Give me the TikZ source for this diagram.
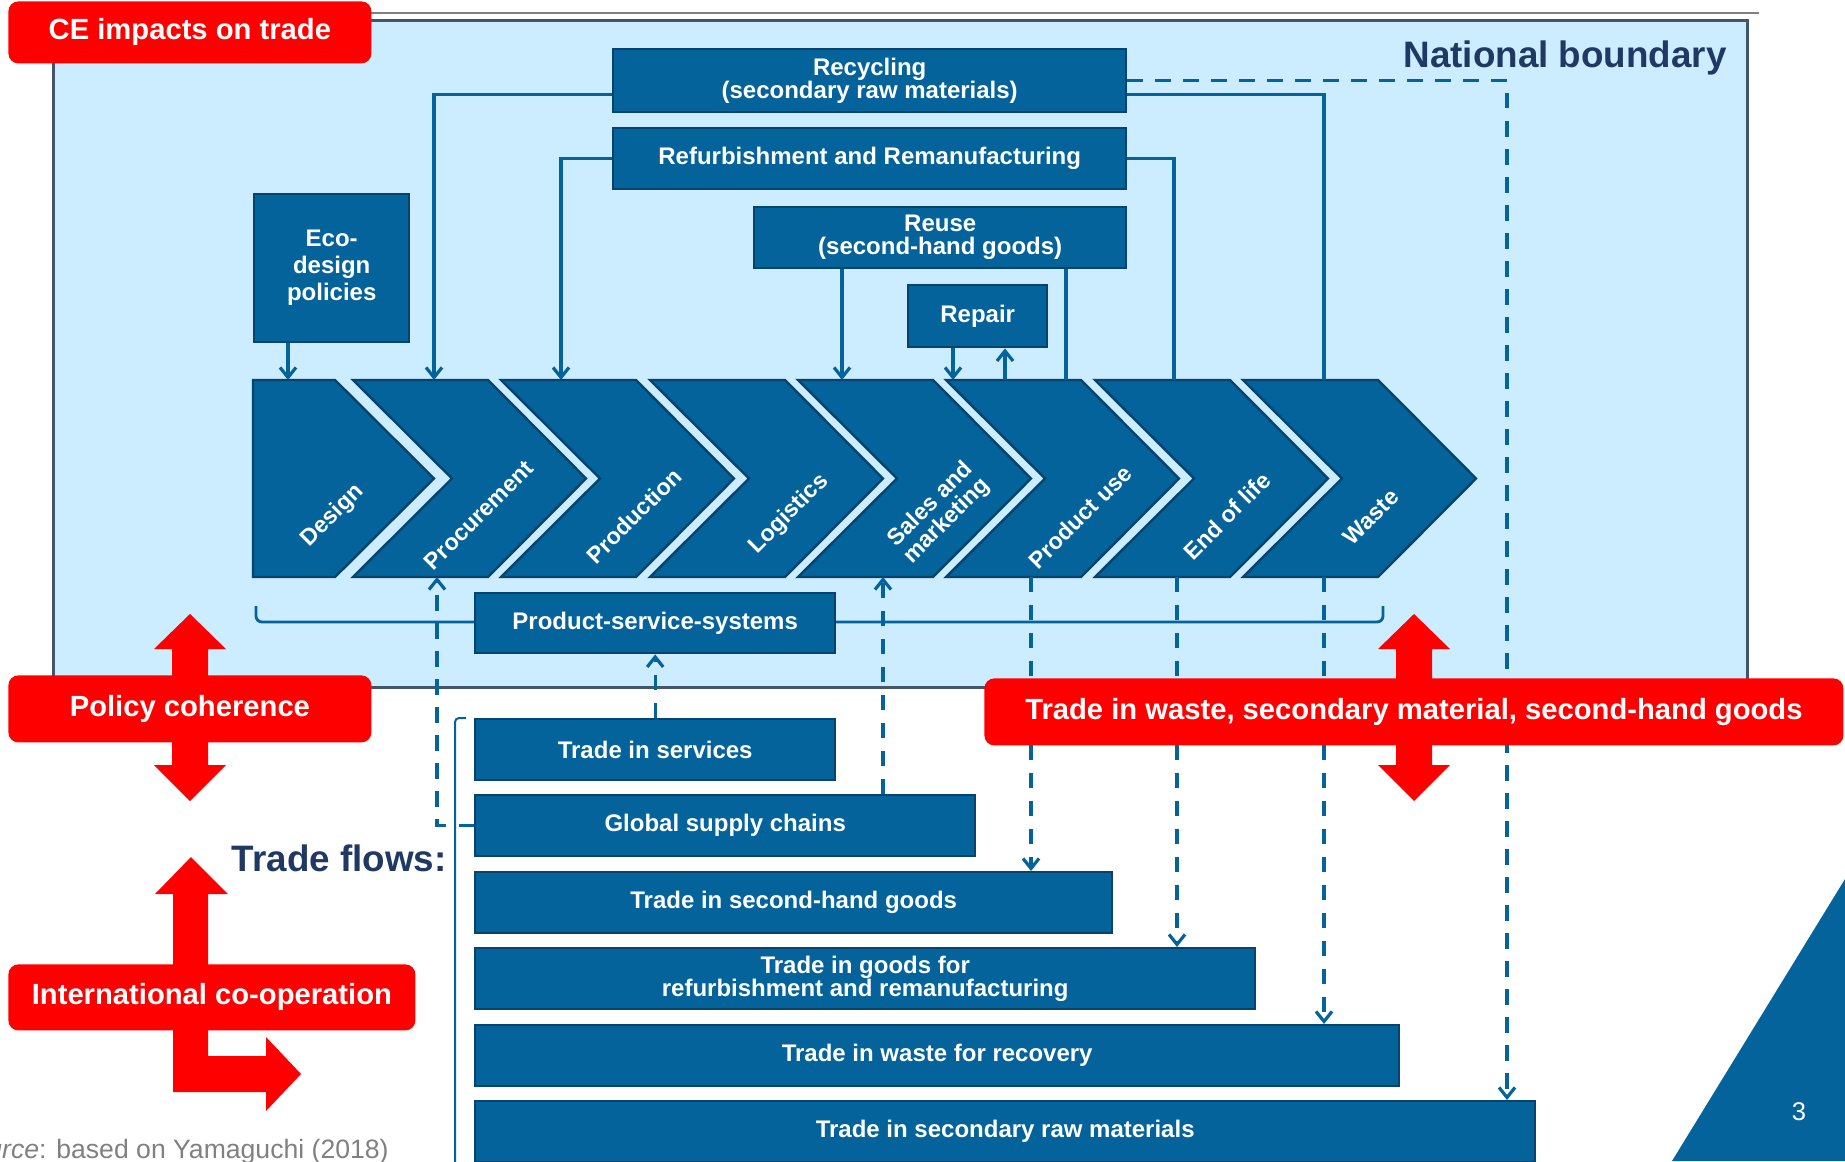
\documentclass[tikz,border=0pt]{standalone}
\usepackage{fontspec}
\setmainfont{Liberation Sans}
\usepackage{xcolor}
\usetikzlibrary{arrows.meta}

\definecolor{boxblue}{RGB}{4,99,154}
\definecolor{boxedge}{RGB}{6,68,110}
\definecolor{skyblue}{RGB}{204,236,255}
\definecolor{cered}{RGB}{255,0,0}
\definecolor{navy}{RGB}{31,56,100}
\definecolor{slate}{RGB}{68,84,106}

\begin{document}
\begin{tikzpicture}[x=0.5pt,y=-0.5pt,
  >={Straight Barb[length=5pt,width=8pt]},
  pbox/.style={draw=boxedge,fill=boxblue,line width=1.2pt,text=white,align=center,inner sep=0pt,anchor=north west,font=\bfseries\fontsize{12}{11.5}\selectfont},
  redbox/.style={fill=cered,rounded corners=5pt,text=white,inner sep=0pt,anchor=north west,font=\bfseries\fontsize{14.6}{16}\selectfont},
  chev/.style={draw=boxedge,fill=boxblue,line width=1.2pt},
  chlabel/.style={text=white,rotate=45,align=center,font=\bfseries\fontsize{11.6}{11.5}\selectfont},
  conn/.style={draw=boxblue,line width=1.6pt},
  dconn/.style={conn,dash pattern=on 7.7pt off 6.3pt}]
\useasboundingbox (0,0) rectangle (1845,1161);

\draw[gray,line width=1pt] (371,13) -- (1759,13);
\filldraw[fill=skyblue,draw=slate,line width=1.5pt] (53,21) rectangle (1747,687);
\node[anchor=base east,inner sep=0pt,text=navy,font=\bfseries\fontsize{18.4}{20}\selectfont] (natb) at (1727,68) {National boundary};

\filldraw[chev] (253,380) -- (335,380) -- (434,478.5) -- (335,577) -- (253,577) -- cycle;
\filldraw[chev] (353,380) -- (488,380) -- (586,478.5) -- (488,577) -- (353,577) -- (452,478.5) -- cycle;
\filldraw[chev] (501,380) -- (636,380) -- (734,478.5) -- (636,577) -- (501,577) -- (600,478.5) -- cycle;
\filldraw[chev] (650,380) -- (785,380) -- (883,478.5) -- (785,577) -- (650,577) -- (749,478.5) -- cycle;
\filldraw[chev] (798,380) -- (933,380) -- (1031,478.5) -- (933,577) -- (798,577) -- (897,478.5) -- cycle;
\filldraw[chev] (946,380) -- (1081,380) -- (1179,478.5) -- (1081,577) -- (946,577) -- (1045,478.5) -- cycle;
\filldraw[chev] (1095,380) -- (1230,380) -- (1328,478.5) -- (1230,577) -- (1095,577) -- (1194,478.5) -- cycle;
\filldraw[chev] (1243,380) -- (1378,380) -- (1476,478.5) -- (1378,577) -- (1243,577) -- (1342,478.5) -- cycle;

\node[chlabel] (design) at (333,516) {Design};
\node[chlabel] (procure) at (479,515) {Procurement};
\node[chlabel] (produce) at (634,516) {Production};
\node[chlabel] (logist) at (789,514) {Logistics};
\node[chlabel] (sales) at (939,513) {Sales and\\marketing};
\node[chlabel] (use) at (1080,517) {Product use};
\node[chlabel] (eol) at (1227,516) {End of life};
\node[chlabel] (waste) at (1371,517) {Waste};

\coordinate (dsgn-in) at (288,380);
\coordinate (proc-in) at (434,380);
\coordinate (prod-in) at (561,380);
\coordinate (sale-in) at (842,380);
\coordinate (use-in) at (953,380);
\coordinate (use-out) at (1005,380);
\coordinate (use-top) at (1066,380);
\coordinate (eol-top) at (1174,380);
\coordinate (wst-top) at (1324,380);
\coordinate (proc-bot) at (437,577);
\coordinate (sale-bot) at (883,577);
\coordinate (use-bot) at (1031,577);
\coordinate (eol-bot) at (1177,577);
\coordinate (wst-bot) at (1324,577);
\coordinate (srm-in) at (1507,1100);

\draw[conn,line width=1.4pt,rounded corners=3pt] (256,606) -- (256,622) -- (1383,622) -- (1383,606);
\draw[conn,line width=1pt,rounded corners=2pt] (466,718) -- (455,718) -- (455,1170);

\node[pbox,minimum width=256.5pt,minimum height=31.5pt] (recyc) at (612,48) {Recycling\\(secondary raw materials)};
\node[pbox,minimum width=256.5pt,minimum height=30.5pt] (refurb) at (612,127) {Refurbishment and Remanufacturing};
\node[pbox,minimum width=186pt,minimum height=30.5pt] (reuse) at (753,206) {Reuse\\(second-hand goods)};
\node[pbox,minimum width=69.5pt,minimum height=31pt] (repair) at (907,284) {Repair};
\node[pbox,minimum width=77.5pt,minimum height=74pt,font=\bfseries\fontsize{12}{13.5}\selectfont] (eco) at (253,193) {Eco-\\design\\policies};
\node[pbox,minimum width=180pt,minimum height=30pt] (pss) at (474,592) {Product-service-systems};

\node[pbox,minimum width=180pt,minimum height=30.5pt] (serv) at (474,718) {Trade in services};
\node[pbox,minimum width=250pt,minimum height=30.5pt] (gsc) at (474,794) {Global supply chains};
\node[pbox,minimum width=318.5pt,minimum height=30.5pt] (shg) at (474,871) {Trade in second-hand goods};
\node[pbox,minimum width=390pt,minimum height=30.5pt] (gref) at (474,947) {Trade in goods for\\refurbishment and remanufacturing};
\node[pbox,minimum width=462pt,minimum height=30.5pt] (wrec) at (474,1024) {Trade in waste for recovery};
\node[pbox,minimum width=530pt,minimum height=30.5pt] (srm) at (474,1100) {Trade in secondary raw materials};

\node[anchor=base east,inner sep=0pt,text=navy,font=\bfseries\fontsize{18.4}{20}\selectfont] (tflows) at (447,871) {Trade flows:};

\draw[conn,->] (eco.south -| dsgn-in) -- (dsgn-in);
\draw[conn,->] ([yshift=-6.75pt]recyc.west) -| (proc-in);
\draw[conn] ([yshift=-6.75pt]recyc.east) -| (wst-top);
\draw[conn,->] (refurb.west) -| (prod-in);
\draw[conn] (refurb.east) -| (eol-top);
\draw[conn,->] (reuse.south -| sale-in) -- (sale-in);
\draw[conn] (reuse.south -| use-top) -- (use-top);
\draw[conn,->] (repair.south -| use-in) -- (use-in);
\draw[conn,<-] (repair.south -| use-out) -- (use-out);

\draw[dconn,->] (recyc.east) -| (srm-in);
\draw[dconn,->] (gsc.west) -| (proc-bot);
\draw[dconn,->] (gsc.north -| sale-bot) -- (sale-bot);
\draw[dconn,->] (serv.north) -- (pss.south);
\draw[dconn,->] (use-bot) -- (use-bot |- shg.north);
\draw[dconn,->] (eol-bot) -- (eol-bot |- gref.north);
\draw[dconn,->] (wst-bot) -- (wst-bot |- wrec.north);

\fill[cered] (190,614) -- (226,649) -- (208,649) -- (208,765) -- (226,765) -- (190,801) -- (154,765) -- (172,765) -- (172,649) -- (154,649) -- cycle;
\fill[cered] (1414,614) -- (1450,649) -- (1432,649) -- (1432,765) -- (1450,765) -- (1414,801) -- (1378,765) -- (1396,765) -- (1396,649) -- (1378,649) -- cycle;
\fill[cered] (191,857) -- (228,894) -- (208,894) -- (208,1056) -- (266,1056) -- (266,1037) -- (301,1074) -- (266,1111) -- (266,1092) -- (173,1092) -- (173,894) -- (155,894) -- cycle;

\node[redbox,minimum width=181.5pt,minimum height=31pt] (ce) at (8,1) {CE impacts on trade};
\node[redbox,minimum width=181.5pt,minimum height=33.5pt] (policy) at (8,675) {Policy coherence};
\node[redbox,minimum width=203.5pt,minimum height=33pt] (intl) at (8,964) {International co-operation};
\node[redbox,minimum width=429.5pt,minimum height=33.5pt] (twaste) at (984,678) {Trade in waste, secondary material, second-hand goods};

\fill[boxblue] (1672,1161) -- (1845,879) -- (1845,1161) -- cycle;
\node[text=white,font=\fontsize{12.8}{14}\selectfont] (pnum) at (1799,1112) {3};
\node[anchor=base east,inner sep=0pt,text=gray,font=\fontsize{13.3}{15}\selectfont] (src) at (389,1158) {\textit{Source}: based on Yamaguchi (2018)};
\end{tikzpicture}
\end{document}
